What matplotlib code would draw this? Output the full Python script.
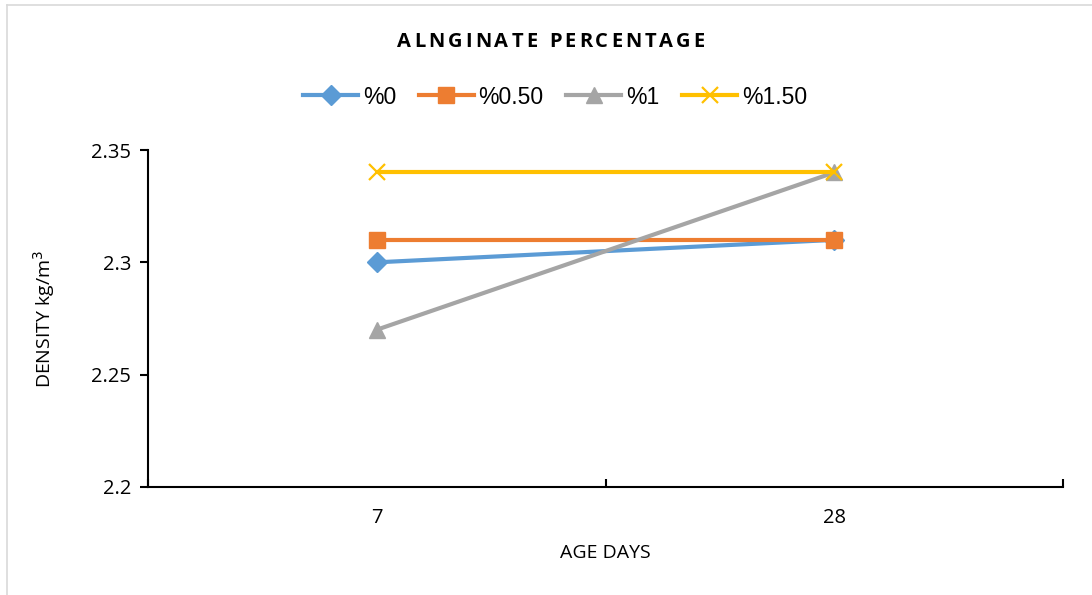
import numpy as np
import matplotlib
matplotlib.use("Agg")
import matplotlib.pyplot as plt
from matplotlib.lines import Line2D

# density by alginate percentage at 7 and 28 days
age_days = ["7", "28"]
series_names = ["%0", "%0.50", "%1", "%1.50"]
density_0 = [2.30, 2.31]
density_050 = [2.31, 2.31]
density_1 = [2.27, 2.34]
density_150 = [2.34, 2.34]
y_ticks = [2.2, 2.25, 2.3, 2.35]
y_tick_labels = ["2.2", "2.25", "2.3", "2.35"]

colors = ["#5B9BD5", "#ED7D31", "#A5A5A5", "#FFC000"]
markers = ["D", "s", "^", "x"]
msizes = [10, 12, 12, 12]

fig = plt.figure(figsize=(10.92, 5.95), dpi=100)
ax = fig.add_axes([148 / 1092, 1 - 487 / 595, (1063 - 148) / 1092, (487 - 150) / 595])

x = np.arange(len(age_days))
all_series = [density_0, density_050, density_1, density_150]
for vals, name, c, m, ms in zip(all_series, series_names, colors, markers, msizes):
    if m == "x":
        ax.plot(x, vals, color=c, lw=3, marker=m, ms=ms, mew=1.6, label=name,
                solid_capstyle="round")
    else:
        ax.plot(x, vals, color=c, lw=3, marker=m, ms=ms, mec=c, mfc=c, label=name,
                solid_capstyle="round")

ax.set_xlim(-0.5, len(age_days) - 0.5)
ax.set_ylim(2.2, 2.35)
ax.set_xticks(x)
ax.set_xticklabels(age_days, fontsize=14.5, family="Open Sans")
ax.set_xticks([-0.5, 0.5, 1.5], minor=True)
ax.tick_params(axis="x", which="major", length=0, pad=15)
ax.tick_params(axis="x", which="minor", direction="in", length=6, width=1.5)
ax.set_yticks(y_ticks)
ax.set_yticklabels(y_tick_labels, fontsize=14.5, family="Open Sans")
ax.tick_params(axis="y", direction="out", length=6, width=1.5, pad=6)

for s in ["top", "right"]:
    ax.spines[s].set_visible(False)
for s in ["left", "bottom"]:
    ax.spines[s].set_linewidth(1.5)
    ax.spines[s].set_color("black")

ax.set_xlabel("AGE DAYS", fontsize=14, family="Open Sans", labelpad=12)
ax.set_ylabel("DENSITY kg/m$^3$", fontsize=14, family="Open Sans", labelpad=25)

handles = [Line2D([0], [0], color=c, lw=3, marker=m, ms=ms, mew=1.6 if m == "x" else 1)
           for c, m, ms in zip(colors, markers, msizes)]
fig.legend(handles, series_names, loc="center", bbox_to_anchor=(555 / 1092, 1 - 97 / 595),
           ncol=4, frameon=False, prop={"family": "Liberation Sans", "size": 16.5},
           handlelength=2.4, handletextpad=0.2, columnspacing=1.0)

# letter-spaced title, placed one character at a time
title = "ALNGINATE PERCENTAGE"
spacing = 3.0
fig.canvas.draw()
renderer = fig.canvas.get_renderer()
pieces = []
widths = []
for ch in title:
    t = fig.text(0, 0, ch, fontsize=14.5, fontweight="bold", family="Open Sans",
                 va="center", ha="left")
    if ch == " ":
        t.set_text("")
        w = 6
    else:
        w = t.get_window_extent(renderer).width
    pieces.append(t)
    widths.append(w)
total = sum(widths) + spacing * (len(title) - 1)
xpos = 551 - total / 2
for t, w in zip(pieces, widths):
    t.set_position((xpos / 1092, 1 - 42 / 595))
    xpos += w + spacing

# light outer frame
fig.add_artist(Line2D([7 / 1092, 7 / 1092], [0, 1 - 5 / 595], color="#d9d9d9", lw=1.2))
fig.add_artist(Line2D([7 / 1092, 1], [1 - 5 / 595, 1 - 5 / 595], color="#d9d9d9", lw=1.2))

fig.savefig("out.png", dpi=100)
